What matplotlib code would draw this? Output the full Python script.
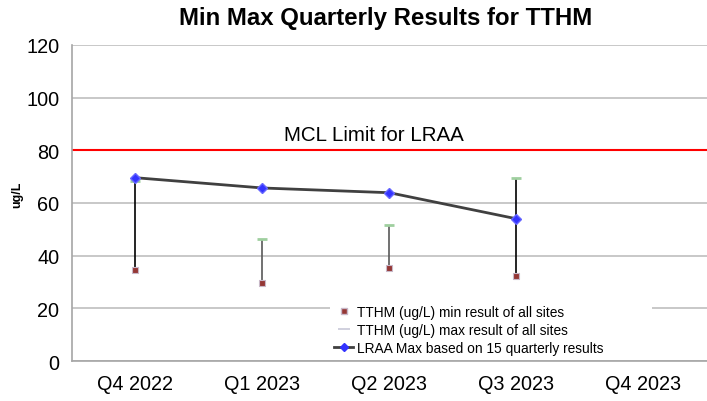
import numpy as np
import matplotlib.pyplot as plt
from matplotlib.lines import Line2D

plt.rcParams['font.family'] = ['Liberation Sans', 'DejaVu Sans']

quarters = ['Q4 2022', 'Q1 2023', 'Q2 2023', 'Q3 2023', 'Q4 2023']
tthm_min = [34.5, 29.7, 35.2, 32.2]
tthm_max = [68.2, 46.2, 51.8, 69.4]
lraa_max = [69.6, 65.7, 63.9, 54.0]
mcl_limit = 80

fig = plt.figure(figsize=(7.07, 4.02), dpi=100)
ax = fig.add_axes([0.1018, 0.0995, 0.8982, 0.7861])

x = np.arange(len(quarters))
xd = x[:len(tthm_min)]

ax.set_xlim(-0.5, len(quarters) - 0.5)
ax.set_ylim(0, 120)
ax.set_yticks(np.arange(0, 121, 20))
ax.set_xticks(x)
ax.set_xticklabels(quarters)
ax.tick_params(length=0, labelsize=14.3, pad=9)
ax.tick_params(axis='y', pad=9)
ax.grid(axis='y', color='#bfbfbf', lw=1.2, zorder=0)
for s in ['top', 'right']:
    ax.spines[s].set_visible(False)
for s in ['left', 'bottom']:
    ax.spines[s].set_color('#a6a6a6')
    ax.spines[s].set_linewidth(1.2)

# min-max bars
line_cols = ['black', '#595959', '#595959', 'black']
for i in range(len(xd)):
    ax.vlines(xd[i], tthm_min[i], tthm_max[i], color=line_cols[i], lw=1.2, zorder=3)

ax.axhline(mcl_limit, color='#ff0000', lw=1.5, zorder=2)
ax.text(1.88, mcl_limit + 2.5, 'MCL Limit for LRAA', ha='center', va='bottom', fontsize=14.8)

ax.scatter(xd, tthm_min, marker='s', s=22, color='#953735', edgecolors='#c8b8c8',
           linewidths=0.8, zorder=5)
ax.scatter(xd, tthm_max, marker='_', s=60, color='#9fcf9f', linewidths=2, zorder=5)
ax.plot(xd, lraa_max, color='#404040', lw=2, marker='D', ms=5.5, mfc='#3333ff',
        mec='#6666ff', zorder=6)

handles = [
    Line2D([], [], ls='none', marker='s', ms=4, color='#953735', mec='#c8b8c8'),
    Line2D([], [], ls='none', marker='_', ms=9, color='#c8c8d8', mew=1.2),
    Line2D([], [], color='#404040', lw=2, marker='D', ms=4.5, mfc='#3333ff', mec='#3333ff'),
]
labels = ['TTHM (ug/L) min result of all sites',
          'TTHM (ug/L) max result of all sites',
          'LRAA Max based on 15 quarterly results']
leg = ax.legend(handles, labels, loc='lower left', bbox_to_anchor=(0.406, 0.005, 0.507, 0.2),
                mode='expand', fontsize=9.9, frameon=True, facecolor='white',
                edgecolor='none', framealpha=1, fancybox=False, handlelength=1.4,
                handletextpad=0.3, labelspacing=0.3, borderpad=0.3, borderaxespad=0)
leg.set_zorder(7)

fig.text(0.545, 0.953, 'Min Max Quarterly Results for TTHM', ha='center', va='center',
         fontsize=17.3, fontweight='bold')
fig.text(0.024, 0.515, 'ug/L', rotation=90, ha='center', va='center', fontsize=9,
         fontweight='bold')

fig.savefig('out.png', dpi=100)
